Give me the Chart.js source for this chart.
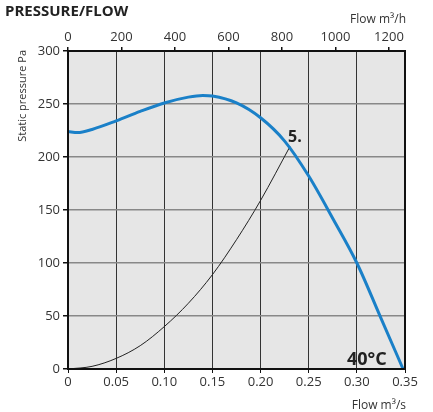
<!DOCTYPE html>
<html>
<head>
<meta charset="utf-8">
<script src="https://cdn.jsdelivr.net/npm/chart.js@4"></script>
<style>
  html, body { margin: 0; padding: 0; background: #fff; }
  #wrap { width: 433px; height: 412px; }
</style>
</head>
<body>
<div id="wrap"><canvas id="chart" width="433" height="412"></canvas></div>
<script>
// fan curve (blue)
const fanFlow = [0, 0.01, 0.025, 0.05, 0.075, 0.10, 0.125, 0.14, 0.15, 0.175, 0.20, 0.225, 0.25, 0.275, 0.30, 0.325, 0.348];
const fanPressure = [224, 223, 226, 234, 243, 251, 256.5, 258, 257.5, 251, 237, 215, 182, 142, 100, 48, 0];

// system curve (black)
const sysFlow = [0, 0.025, 0.05, 0.075, 0.10, 0.125, 0.15, 0.175, 0.20, 0.2306];
const sysPressure = [0, 2.5, 10, 22, 40, 62, 89, 122, 159, 210];

const flowTicksS = [0, 0.05, 0.10, 0.15, 0.20, 0.25, 0.30, 0.35];
const flowTicksH = [0, 200, 400, 600, 800, 1000, 1200];
const pressureTicks = [0, 50, 100, 150, 200, 250, 300];

const tickFont = { family: "Open Sans", size: 13 };
const tickColor = "#333";

const canvas = document.getElementById("chart");

// background of plot area + extra text
const decorPlugin = {
    id: "decor",
    beforeDraw(chart) {
        const { ctx, chartArea: a } = chart;
        ctx.save();
        ctx.fillStyle = "#e6e6e6";
        ctx.fillRect(a.left, a.top, a.right - a.left, a.bottom - a.top);
        ctx.restore();
    },
    afterDraw(chart) {
        const { ctx, chartArea: a } = chart;
        ctx.save();
        // frame
        ctx.strokeStyle = "#111";
        ctx.lineWidth = 2;
        ctx.strokeRect(a.left, a.top, a.right - a.left, a.bottom - a.top);

        ctx.fillStyle = "#222";
        ctx.font = "bold 15px 'Open Sans'";
        ctx.textAlign = "left";
        ctx.textBaseline = "alphabetic";
        ctx.fillText("PRESSURE/FLOW", 5, 16);

        ctx.fillStyle = "#333";
        ctx.font = "12px 'Open Sans'";
        ctx.textAlign = "right";
        ctx.fillText("Flow m\u00b3/h", 406, 23);
        ctx.fillText("Flow m\u00b3/s", 406, 409);

        // y axis title
        ctx.save();
        ctx.translate(26, 50);
        ctx.rotate(-Math.PI / 2);
        ctx.font = "11px 'Open Sans'";
        ctx.textAlign = "right";
        ctx.fillText("Static pressure Pa", 0, 0);
        ctx.restore();

        // curve labels
        ctx.fillStyle = "#222";
        ctx.font = "bold 16px 'Open Sans'";
        ctx.textAlign = "left";
        const x5 = chart.scales.x.getPixelForValue(0.2306);
        const y5 = chart.scales.y.getPixelForValue(210);
        ctx.fillText("5.", x5 - 2, y5 - 4);
        ctx.font = "bold 18px 'Open Sans'";
        ctx.fillText("40\u00b0C", 347, 365);
        ctx.restore();
    }
};

new Chart(canvas, {
    type: "line",
    data: {
        datasets: [
            {
                label: "5.",
                data: fanFlow.map((f, i) => ({ x: f, y: fanPressure[i] })),
                borderColor: "#1a80c8",
                borderWidth: 3,
                pointRadius: 0,
                cubicInterpolationMode: "monotone",
                xAxisID: "x",
                yAxisID: "y"
            },
            {
                label: "system",
                data: sysFlow.map((f, i) => ({ x: f, y: sysPressure[i] })),
                borderColor: "#222",
                borderWidth: 1,
                pointRadius: 0,
                cubicInterpolationMode: "monotone",
                xAxisID: "x",
                yAxisID: "y"
            }
        ]
    },
    options: {
        responsive: false,
        animation: false,
        layout: { padding: { left: 0, right: 28, top: 0, bottom: 0 } },
        plugins: { legend: { display: false }, tooltip: { enabled: false } },
        scales: {
            x: {
                type: "linear",
                position: "bottom",
                min: 0,
                max: 0.35,
                afterBuildTicks: s => { s.ticks = flowTicksS.map(v => ({ value: v })); },
                afterFit: s => { s.height = 43; },
                grid: { color: "#333", lineWidth: 1, tickLength: 4, tickColor: "#111" },
                border: { display: false },
                ticks: {
                    font: tickFont, color: tickColor, padding: 1, maxRotation: 0,
                    callback: v => v === 0 ? "0" : v.toFixed(2)
                }
            },
            x2: {
                type: "linear",
                position: "top",
                min: 0,
                max: 1260,
                afterBuildTicks: s => { s.ticks = flowTicksH.map(v => ({ value: v })); },
                afterFit: s => { s.height = 51; },
                grid: { drawOnChartArea: false, tickLength: 4, tickColor: "#111", lineWidth: 1.5 },
                border: { display: false },
                ticks: { font: tickFont, color: tickColor, padding: 2, maxRotation: 0, callback: v => String(v) }
            },
            y: {
                type: "linear",
                position: "left",
                min: 0,
                max: 300,
                afterBuildTicks: s => { s.ticks = pressureTicks.map(v => ({ value: v })); },
                afterFit: s => { s.width = 68; },
                grid: { color: "#888", lineWidth: 1.5, tickLength: 5, tickColor: "#111" },
                border: { display: false },
                ticks: { font: tickFont, color: tickColor, padding: 3 }
            }
        }
    },
    plugins: [decorPlugin]
});
</script>
</body>
</html>
